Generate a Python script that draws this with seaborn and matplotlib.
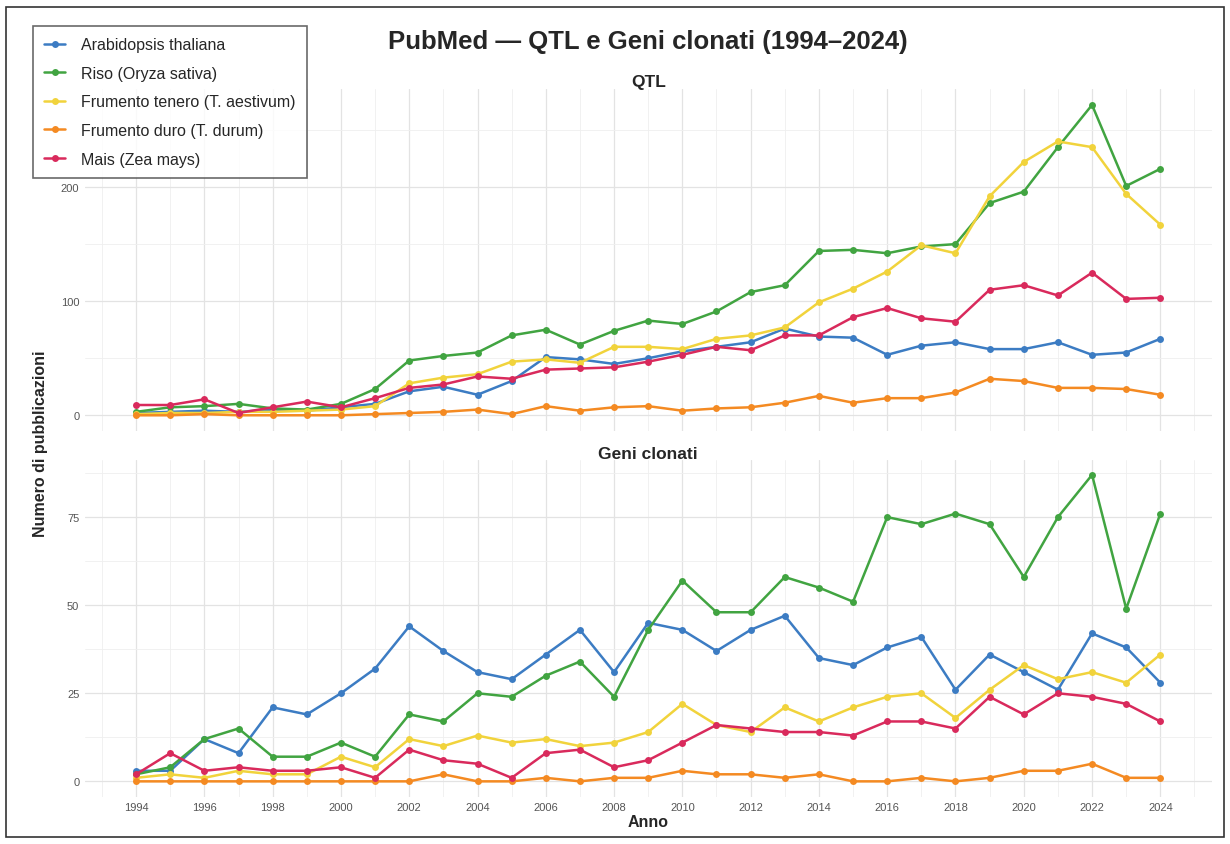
import numpy as np
import pandas as pd
import matplotlib
matplotlib.use("Agg")
import matplotlib.pyplot as plt
from matplotlib.patches import Rectangle
from matplotlib.ticker import MultipleLocator
import seaborn as sns

# Data
years = list(range(1994, 2025))
species = ["Arabidopsis thaliana", "Riso (Oryza sativa)", "Frumento tenero (T. aestivum)",
           "Frumento duro (T. durum)", "Mais (Zea mays)"]
colors = ["#3c7cc3", "#41a441", "#f1d33c", "#f48a22", "#d92a5c"]

# QTL
qtl_arabidopsis = [2, 3, 4, 3, 5, 4, 7, 10, 21, 25, 18, 30, 51, 49, 45, 50, 56, 60, 64, 76, 69,
                   68, 53, 61, 64, 58, 58, 64, 53, 55, 67]
qtl_riso = [3, 7, 8, 10, 6, 5, 10, 23, 48, 52, 55, 70, 75, 62, 74, 83, 80, 91, 108, 114, 144,
            145, 142, 148, 150, 186, 196, 235, 272, 201, 216]
qtl_tenero = [1, 2, 2, 3, 3, 4, 5, 8, 28, 33, 36, 47, 49, 46, 60, 60, 58, 67, 70, 77, 99,
              111, 126, 149, 142, 192, 222, 240, 235, 194, 167]
qtl_duro = [0, 0, 1, 0, 0, 0, 0, 1, 2, 3, 5, 1, 8, 4, 7, 8, 4, 6, 7, 11, 17,
            11, 15, 15, 20, 32, 30, 24, 24, 23, 18]
qtl_mais = [9, 9, 14, 2, 7, 12, 7, 15, 24, 27, 34, 32, 40, 41, 42, 47, 53, 60, 57, 70, 70,
            86, 94, 85, 82, 110, 114, 105, 125, 102, 103]

# Geni clonati
gen_arabidopsis = [3, 3, 12, 8, 21, 19, 25, 32, 44, 37, 31, 29, 36, 43, 31, 45, 43, 37, 43, 47, 35,
                   33, 38, 41, 26, 36, 31, 26, 42, 38, 28]
gen_riso = [2, 4, 12, 15, 7, 7, 11, 7, 19, 17, 25, 24, 30, 34, 24, 43, 57, 48, 48, 58, 55,
            51, 75, 73, 76, 73, 58, 75, 87, 49, 76]
gen_tenero = [1, 2, 1, 3, 2, 2, 7, 4, 12, 10, 13, 11, 12, 10, 11, 14, 22, 16, 14, 21, 17,
              21, 24, 25, 18, 26, 33, 29, 31, 28, 36]
gen_duro = [0, 0, 0, 0, 0, 0, 0, 0, 0, 2, 0, 0, 1, 0, 1, 1, 3, 2, 2, 1, 2,
            0, 0, 1, 0, 1, 3, 3, 5, 1, 1]
gen_mais = [2, 8, 3, 4, 3, 3, 4, 1, 9, 6, 5, 1, 8, 9, 4, 6, 11, 16, 15, 14, 14,
            13, 17, 17, 15, 24, 19, 25, 24, 22, 17]

def to_long(series):
    rows = []
    for sp, vals in zip(species, series):
        for y, v in zip(years, vals):
            rows.append({"Anno": y, "Specie": sp, "n": v})
    return pd.DataFrame(rows)

qtl_df = to_long([qtl_arabidopsis, qtl_riso, qtl_tenero, qtl_duro, qtl_mais])
gen_df = to_long([gen_arabidopsis, gen_riso, gen_tenero, gen_duro, gen_mais])

sns.set_theme(style="white")
plt.rcParams["font.family"] = ["Liberation Sans", "DejaVu Sans"]

fig = plt.figure(figsize=(12.3, 8.45), dpi=100)
ax1 = fig.add_axes([0.069, 0.489, 0.916, 0.404])
ax2 = fig.add_axes([0.069, 0.056, 0.916, 0.399], sharex=ax1)
palette = dict(zip(species, colors))

for ax, df, title, major, minor in [(ax1, qtl_df, "QTL", 100, 50),
                                     (ax2, gen_df, "Geni clonati", 25, 12.5)]:
    sns.lineplot(data=df, x="Anno", y="n", hue="Specie", hue_order=species, palette=palette,
                 marker="o", markersize=5, markeredgewidth=0, linewidth=1.8, ax=ax,
                 legend=(ax is ax1))
    ymax = df["n"].max()
    ax.set_ylim(-0.05 * ymax, 1.05 * ymax)
    ax.set_xlim(1992.5, 2025.5)
    ax.xaxis.set_major_locator(MultipleLocator(2))
    ax.xaxis.set_minor_locator(MultipleLocator(1))
    ax.yaxis.set_major_locator(MultipleLocator(major))
    ax.yaxis.set_minor_locator(MultipleLocator(minor))
    ax.grid(which="major", color="#e3e3e3", linewidth=0.9)
    ax.grid(which="minor", color="#efefef", linewidth=0.6)
    ax.set_axisbelow(True)
    for s in ax.spines.values():
        s.set_visible(False)
    ax.tick_params(which="both", length=0, labelsize=8, labelcolor="#555555", pad=4)
    ax.set_title(title, fontsize=12.5, fontweight="bold", pad=1)
    ax.set_xlabel("")
    ax.set_ylabel("")

ax1.tick_params(axis="x", labelbottom=False)
ax2.set_xlabel("Anno", fontsize=11.5, fontweight="bold", labelpad=1)

handles, labels = ax1.get_legend_handles_labels()
ax1.get_legend().remove()
leg = fig.legend(handles, labels, loc="upper left", bbox_to_anchor=(0.027, 0.968),
                 borderaxespad=0, fontsize=11.5, frameon=True, fancybox=False,
                 handlelength=1.3, borderpad=0.7, labelspacing=0.85, handletextpad=1.0)
leg.get_frame().set_edgecolor("#444444")
leg.get_frame().set_linewidth(1.2)

fig.text(0.033, 0.475, "Numero di pubblicazioni", rotation=90, ha="center", va="center",
         fontsize=11.5, fontweight="bold")
fig.suptitle("PubMed — QTL e Geni clonati (1994–2024)", x=0.527, y=0.965,
             fontsize=18.5, fontweight="bold")

fig.add_artist(Rectangle((0.005, 0.008), 0.99, 0.982, transform=fig.transFigure,
                         fill=False, edgecolor="#333333", linewidth=1.2))

fig.savefig("out.png", dpi=100)
